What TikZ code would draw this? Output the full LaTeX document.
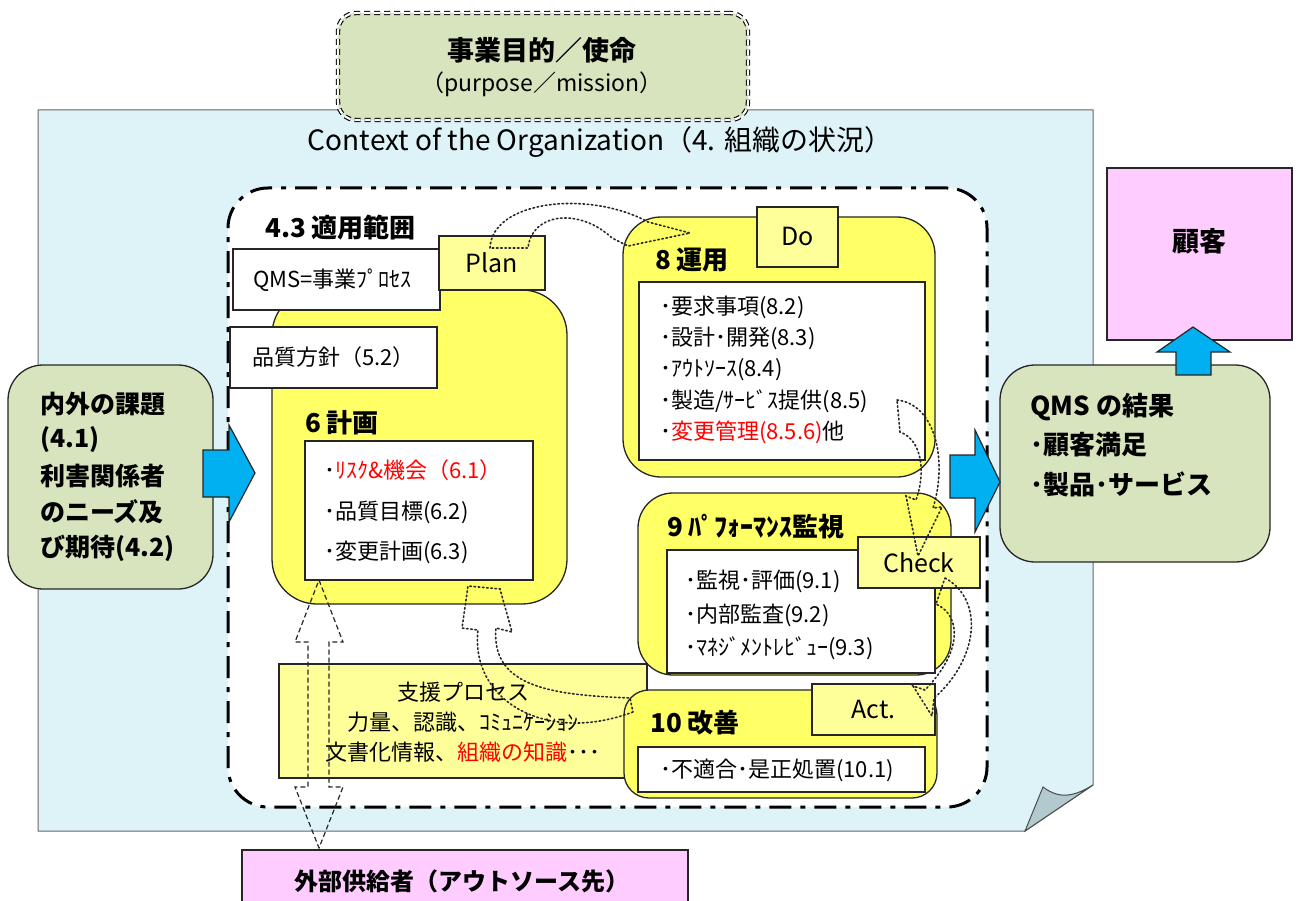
\documentclass[tikz,border=0pt]{standalone}
\usepackage{fontspec}
\setmainfont{Noto Sans CJK JP}
\usetikzlibrary{fit}
\definecolor{ctxbg}{RGB}{221,243,248}
\definecolor{foldc}{RGB}{178,202,206}
\definecolor{olivebg}{RGB}{215,228,189}
\definecolor{yel}{RGB}{255,255,102}
\definecolor{ltyel}{RGB}{255,255,153}
\definecolor{pinkbg}{RGB}{255,204,255}
\definecolor{bluearr}{RGB}{0,176,240}
\definecolor{redt}{RGB}{255,0,0}
\begin{document}
\begin{tikzpicture}[x=1pt,y=-1pt,
  bx/.style={draw=black!85, line width=1.3pt, inner sep=0pt},
  ybox/.style={bx, fill=yel},
  tab/.style={bx, fill=ltyel},
  wbox/.style={bx, fill=white},
  lst/.style={anchor=west, inner sep=0pt, font=\fontsize{22}{26}\selectfont},
  hd/.style={anchor=west, inner sep=0pt, font=\fontsize{26}{30}\selectfont\bfseries},
  lhd/.style={anchor=west, inner sep=0pt, font=\fontsize{25}{30}\selectfont\bfseries},
  tabt/.style={inner sep=0pt, font=\fontsize{25}{30}\selectfont},
  sup/.style={inner sep=0pt, font=\fontsize{22}{26}\selectfont},
  barr/.style={draw=black!85, line width=1.2pt, fill=bluearr},
  dotarr/.style={draw=black!85, line width=1.6pt, dash pattern=on 1.6pt off 2.6pt, line cap=round}
]
\useasboundingbox (0,0) rectangle (1300,901);
% context background with folded corner
\path[fill=ctxbg, draw=black!60, line width=1pt] (38,110) -- (1093,110) -- (1093,785) -- (1025,831) -- (38,831) -- cycle;
\path[fill=foldc, draw=black!70, line width=1pt] (1025,831) -- (1043,787) .. controls (1060,800) and (1075,796) .. (1093,785) -- cycle;
\node[inner sep=0pt, font=\fontsize{28}{32}\selectfont] (ctxtitle) at (600,142) {Context of the Organization（4. 組織の状況）};
% purpose box
\node[fit={(338,13) (748,120)}, inner sep=0pt, fill=olivebg, draw=black, line width=1.1pt, double=white, double distance=2.2pt, dash pattern=on 6pt off 4pt, rounded corners=18pt] (purpose) {};
\node[inner sep=0pt, font=\fontsize{27}{31}\selectfont\bfseries] (purp1) at (542,50) {事業目的／使命};
\node[inner sep=0pt, font=\fontsize{23}{27}\selectfont] (purp2) at (542,84) {（purpose／mission）};
% scope region
\node[fit={(228,188) (987,807)}, inner sep=0pt, fill=white, draw=black, line width=3pt, dash pattern=on 22pt off 9pt on 5pt off 9pt, rounded corners=40pt] (scope) {};
\node[hd] (scopet) at (265,228) {4.3 適用範囲};
% plan
\node[ybox, fit={(272,290) (567,604)}, rounded corners=45pt] (plan) {};
\node[wbox, fit={(233,249) (440,310)}] (qms) {};
\node[lst] (qmst) at (253,280) {QMS=事業ﾌﾟﾛｾｽ};
\node[wbox, fit={(230,327) (437,388)}] (policy) {};
\node[lst] (policyt) at (252,357) {品質方針（5.2）};
\node[tab, fit={(439,236) (545,290)}] (plantab) {};
\node[tabt] at (plantab.center) {Plan};
\node[hd] (plant) at (305,423) {6 計画};
\node[wbox, fit={(305,441) (533,580)}] (planl) {};
\node[lst] (p1) at (324,470) {･\textcolor{redt}{ﾘｽｸ\&機会（6.1）}};
\node[lst] (p2) at (324,512) {･品質目標(6.2)};
\node[lst] (p3) at (324,552) {･変更計画(6.3)};
% do
\node[ybox, fit={(623,217) (935,477)}, rounded corners=38pt] (do) {};
\node[tab, fit={(757,207) (838,267)}] (dotab) {};
\node[tabt] at (dotab.center) {Do};
\node[hd] (dot) at (655,260) {8 運用};
\node[wbox, fit={(639,282) (925,460)}] (dol) {};
\node[lst] (d1) at (660,307) {･要求事項(8.2)};
\node[lst] (d2) at (660,338) {･設計･開発(8.3)};
\node[lst] (d3) at (660,370) {･ｱｳﾄｿｰｽ(8.4)};
\node[lst] (d4) at (660,401) {･製造/ｻｰﾋﾞｽ提供(8.5)};
\node[lst] (d5) at (660,432) {･\textcolor{redt}{変更管理(8.5.6)}他};
% support
\node[tab, fit={(279,664) (647,778)}] (support) {};
\node[sup] (s1) at (463,692) {支援プロセス};
\node[sup] (s2) at (463,722) {力量、認識、ｺﾐｭﾆｹｰｼｮﾝ};
\node[sup] (s3) at (463,752) {文書化情報、\textcolor{redt}{組織の知識}･･･};
% check
\node[ybox, fit={(638,493) (951,675)}, rounded corners=35pt] (check) {};
\node[hd] (checkt) at (667,527) {9 ﾊﾟﾌｫｰﾏﾝｽ監視};
\node[wbox, fit={(667,550) (935,673)}] (checkl) {};
\node[lst] (c1) at (685,581) {･監視･評価(9.1)};
\node[lst] (c2) at (685,615) {･内部監査(9.2)};
\node[lst] (c3) at (685,648) {･ﾏﾈｼﾞﾒﾝﾄﾚﾋﾞｭｰ(9.3)};
\node[tab, fit={(858,537) (980,588)}] (checktab) {};
\node[tabt] at (checktab.center) {Check};
% act
\node[ybox, fit={(624,690) (937,798)}, rounded corners=25pt] (act) {};
\node[tab, fit={(812,684) (935,735)}] (acttab) {};
\node[tabt] at (acttab.center) {Act.};
\node[hd] (actt) at (650,723) {10 改善};
\node[wbox, fit={(638,747) (925,792)}] (actl) {};
\node[lst] (a1) at (660,770) {･不適合･是正処置(10.1)};
% dotted cycle arrows
\draw[dotarr] (490,248) .. controls (492,200) and (590,190) .. (648,222) -- (690,233) -- (628,246) -- (612,238) .. controls (580,208) and (532,212) .. (528,248) -- cycle;
\draw[dotarr] (897,400) .. controls (935,404) and (948,460) .. (933,508) -- (942,507) -- (918,556) -- (906,496) -- (916,500) .. controls (926,472) and (922,440) .. (900,432) -- cycle;
\draw[dotarr] (945,578) .. controls (985,600) and (978,660) .. (934,698) -- (932,716) -- (913,686) -- (925,690) .. controls (962,652) and (962,616) .. (936,604) -- cycle;
\draw[dotarr] (633,712) .. controls (545,745) and (470,700) .. (478,630) -- (462,628) -- (468,586) -- (500,589) -- (512,632) -- (496,628) .. controls (490,690) and (560,695) .. (630,698) -- cycle;
% dashed double arrow to supplier
\draw[draw=black!85, line width=1.2pt, dash pattern=on 5pt off 3pt] (319,580) -- (343,642) -- (329,642) -- (329,787) -- (343,787) -- (319,848) -- (295,787) -- (308,787) -- (308,642) -- (295,642) -- cycle;
% outside boxes
\node[bx, fill=olivebg, fit={(8,365) (213,589)}, rounded corners=35pt] (issues) {};
\node[lhd] (i1) at (40,404) {内外の課題};
\node[lhd] (i2) at (40,440) {(4.1)};
\node[lhd] (i3) at (40,476) {利害関係者};
\node[lhd] (i4) at (40,512) {のニーズ及};
\node[lhd] (i5) at (40,548) {び期待(4.2)};
\node[bx, fill=olivebg, fit={(1000,365) (1270,562)}, rounded corners=35pt] (result) {};
\node[hd] (r1) at (1030,407) {QMS の結果};
\node[hd] (r2) at (1030,445) {･顧客満足};
\node[hd] (r3) at (1030,484) {･製品･サービス};
\node[bx, fill=pinkbg, fit={(1107,168) (1292,340)}] (customer) {};
\node[inner sep=0pt, font=\fontsize{27}{31}\selectfont\bfseries] at (1199,241) {顧客};
\node[bx, fill=pinkbg, fit={(242,850) (688,912)}] (supplier) {};
\node[inner sep=0pt, font=\fontsize{24}{28}\selectfont\bfseries] at (462,881) {外部供給者（アウトソース先）};
% blue arrows
\draw[barr] (203,450) -- (229,450) -- (229,425) -- (255,473) -- (229,522) -- (229,497) -- (203,497) -- cycle;
\draw[barr] (950,455) -- (975,455) -- (975,430) -- (1000,482) -- (975,532) -- (975,498) -- (950,498) -- cycle;
\draw[barr] (1176,375) -- (1176,352) -- (1157,352) -- (1193,327) -- (1230,352) -- (1211,352) -- (1211,375) -- cycle;
\end{tikzpicture}
\end{document}
